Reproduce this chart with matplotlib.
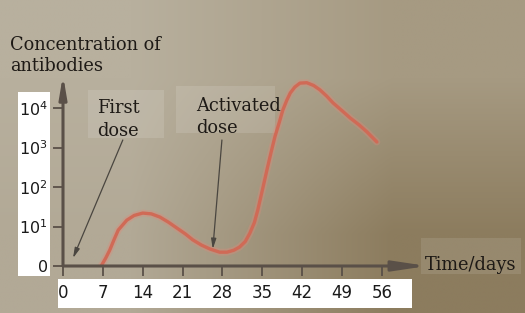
import numpy as np
import matplotlib.pyplot as plt
from matplotlib.patches import Rectangle

# data (day, level where level 0..4 -> 0, 10^1 .. 10^4)
days = [6.7, 7.5, 8.2, 9.0, 9.7, 11.2, 12.5, 14.0, 15.5, 17.0, 18.5, 20.0, 21.5,
        22.8, 24.3, 25.8, 27.5, 28.8, 30.0, 31.0, 32.0, 32.8, 33.6, 34.2, 35.0,
        35.8, 36.5, 37.2, 38.0, 38.6, 39.3, 39.9, 40.7, 41.6, 42.8, 44.0, 45.1,
        46.3, 47.4, 49.0, 50.4, 52.0, 53.4, 55.1]
levels = [0.0, 0.2, 0.4, 0.68, 0.91, 1.16, 1.28, 1.34, 1.32, 1.24, 1.11, 0.96, 0.81,
          0.66, 0.53, 0.43, 0.35, 0.35, 0.40, 0.48, 0.62, 0.83, 1.10, 1.42, 1.92,
          2.43, 2.86, 3.27, 3.65, 3.95, 4.20, 4.38, 4.53, 4.63, 4.64, 4.57, 4.46,
          4.30, 4.13, 3.93, 3.75, 3.57, 3.39, 3.14]

x_ticks = [0, 7, 14, 21, 28, 35, 42, 49, 56]
y_ticks = [0, 1, 2, 3, 4]
y_labels = ['0', '$10^1$', '$10^2$', '$10^3$', '$10^4$']

W, H = 525, 313
fig = plt.figure(figsize=(W / 100, H / 100), dpi=100)

# photo-like paper background
bg = fig.add_axes([0, 0, 1, 1], zorder=-2)
corners = np.array([[[184, 176, 158], [166, 154, 130]],
                    [[178, 169, 150], [140, 124, 94]]]) / 255
bg.imshow(corners, extent=[0, 1, 0, 1], interpolation='bilinear', aspect='auto')
bg.axis('off')


def px_rect(x0, y0, x1, y1, color, alpha=1.0):
    # rectangle given in image pixels (origin top-left)
    r = Rectangle((x0 / W, 1 - y1 / H), (x1 - x0) / W, (y1 - y0) / H,
                  transform=fig.transFigure, facecolor=color, edgecolor='none',
                  alpha=alpha, zorder=-1)
    fig.add_artist(r)


px_rect(18, 92, 50, 276, 'white')
px_rect(58, 279, 412, 308, 'white')
px_rect(88, 90, 164, 138, 'white', 0.12)
px_rect(176, 86, 275, 133, 'white', 0.12)
px_rect(421, 238, 521, 274, 'white', 0.1)

# main axes: origin at pixel (63, 266), arrows end at x=420, y=75
x0, y0, x1, y1 = 63, 266, 420, 75
ax = fig.add_axes([x0 / W, 1 - y0 / H, (x1 - x0) / W, (y0 - y1) / H])
ax.set_facecolor('none')
ax.set_xlim(0, (x1 - x0) / 5.696)
ax.set_ylim(0, (y0 - y1) / 39.5)
for s in ax.spines.values():
    s.set_visible(False)

axis_col = '#5a5048'
ax.annotate('', xy=(1.02, 0), xytext=(0, 0), xycoords='axes fraction',
            arrowprops=dict(arrowstyle='-|>,head_length=2.0,head_width=0.3',
                            color=axis_col, lw=2.2, shrinkA=0, shrinkB=0),
            annotation_clip=False)
ax.annotate('', xy=(0, 1.0), xytext=(0, 0), xycoords='axes fraction',
            arrowprops=dict(arrowstyle='-|>,head_length=1.3,head_width=0.22',
                            color=axis_col, lw=2.2, shrinkA=0, shrinkB=0),
            annotation_clip=False)

ax.set_xticks(x_ticks)
ax.set_xticklabels([str(t) for t in x_ticks])
ax.set_yticks(y_ticks)
ax.set_yticklabels(y_labels)
ax.tick_params(axis='both', direction='out', length=7, width=1.3, color=axis_col,
               labelcolor='#1a1a1a')
ax.tick_params(axis='x', pad=6, labelsize=12)
ax.tick_params(axis='y', pad=4, labelsize=11.5)

# antibody curve
ax.plot(days, levels, color='#e08878', lw=5, alpha=0.35, solid_capstyle='round')
ax.plot(days, levels, color='#d06a56', lw=2.4, solid_capstyle='round')

# dose arrows
arrow_col = '#4a4640'
ax.annotate('', xy=(1.76, 0.2), xytext=(10.5, 3.19),
            arrowprops=dict(arrowstyle='-|>,head_length=0.6,head_width=0.15',
                            color=arrow_col, lw=0.9, shrinkA=0, shrinkB=0))
ax.annotate('', xy=(26.3, 0.43), xytext=(27.9, 3.19),
            arrowprops=dict(arrowstyle='-|>,head_length=0.6,head_width=0.15',
                            color=arrow_col, lw=0.9, shrinkA=0, shrinkB=0))

serif = 'DejaVu Serif'
txt_col = '#1e1a16'
fs = 12.8
fig.text(10 / W, 1 - 45 / H, 'Concentration of', family=serif, fontsize=fs,
         color=txt_col, va='center', ha='left')
fig.text(10 / W, 1 - 66 / H, 'antibodies', family=serif, fontsize=fs,
         color=txt_col, va='center', ha='left')
fig.text(97 / W, 1 - 108 / H, 'First', family=serif, fontsize=fs,
         color=txt_col, va='center', ha='left')
fig.text(97 / W, 1 - 131 / H, 'dose', family=serif, fontsize=fs,
         color=txt_col, va='center', ha='left')
fig.text(196 / W, 1 - 106 / H, 'Activated', family=serif, fontsize=fs,
         color=txt_col, va='center', ha='left')
fig.text(196 / W, 1 - 128 / H, 'dose', family=serif, fontsize=fs,
         color=txt_col, va='center', ha='left')
fig.text(425 / W, 1 - 265 / H, 'Time/days', family=serif, fontsize=fs,
         color=txt_col, va='center', ha='left')

fig.savefig('out.png', dpi=100)
